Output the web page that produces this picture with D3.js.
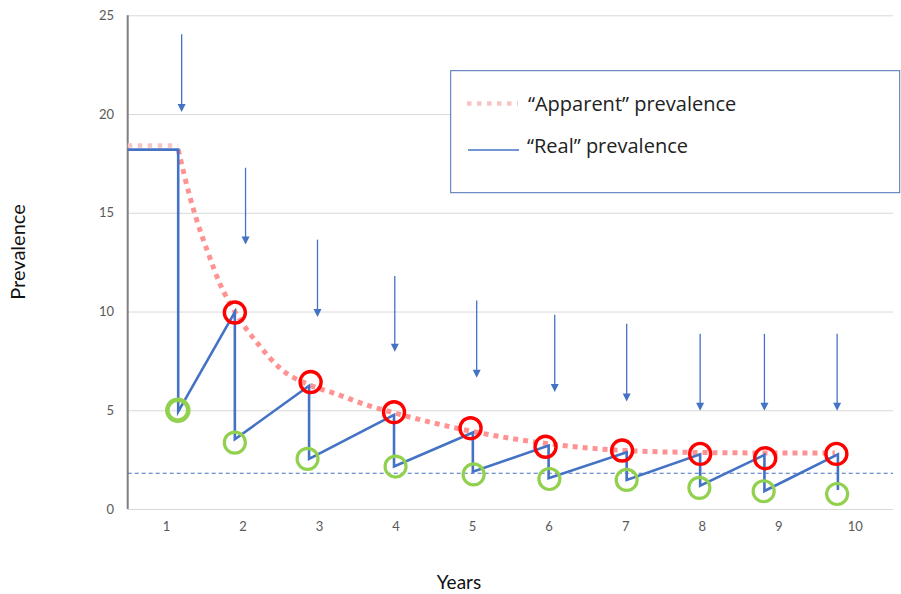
<!DOCTYPE html>
<html>
<head>
<meta charset="utf-8">
<script src="https://cdn.jsdelivr.net/npm/d3@7"></script>
<style>
  html, body { margin: 0; padding: 0; background: #fff; }
  svg { display: block; }
  text { font-family: Lato, "Open Sans", sans-serif; }
</style>
</head>
<body>
<svg id="chart" width="901" height="594"></svg>
<script>
// ---- data ----
const years = [1, 2, 3, 4, 5, 6, 7, 8, 9, 10];
const yTicks = [0, 5, 10, 15, 20, 25];

// "Real" prevalence zig-zag (x in year units, y prevalence)
const realX = [0.5, 1.16, 1.16, 1.90, 1.90, 2.87, 2.87, 3.98, 3.98, 5.01, 5.01, 6.00, 6.00, 7.02, 7.02, 7.98, 7.98, 8.82, 8.82, 9.78, 9.78];
const realY = [18.2, 18.2, 4.93, 9.97, 3.53, 6.24, 2.54, 4.77, 2.15, 3.87, 1.89, 3.21, 1.56, 2.87, 1.47, 2.77, 1.18, 2.74, 0.91, 2.77, 0.96];

// "Apparent" prevalence: initial flat part and decaying curve
const apparentStartX = [0.5, 1.16];
const apparentStartY = [18.41, 18.41];
const apparentX = [1.16, 1.31, 1.40, 1.55, 1.71, 1.90, 2.23, 2.49, 2.87, 3.19, 3.62, 3.98, 5.00, 6.00, 7.00, 8.00, 8.80, 9.74];
const apparentY = [18.2, 15.84, 14.65, 12.97, 11.36, 10.0, 8.23, 7.13, 6.29, 5.87, 5.27, 4.87, 3.93, 3.30, 2.96, 2.86, 2.84, 2.84];

// Red circles (peaks) and green circles (troughs)
const redX = [1.90, 2.89, 3.98, 4.98, 5.96, 6.96, 7.98, 8.83, 9.76];
const redY = [9.95, 6.43, 4.90, 4.09, 3.15, 2.96, 2.79, 2.57, 2.79];
const greenX = [1.155, 1.90, 2.85, 4.00, 5.02, 6.01, 7.02, 7.97, 8.81, 9.77];
const greenY = [5.00, 3.36, 2.54, 2.15, 1.75, 1.52, 1.47, 1.07, 0.90, 0.76];

// Downward arrows
const arrowX = [1.205, 2.04, 2.98, 3.99, 5.06, 6.08, 7.02, 7.98, 8.82, 9.77];
const arrowTop = [24.04, 17.28, 13.64, 11.8, 10.56, 9.84, 9.38, 8.87, 8.87, 8.87];
const arrowTip = [20.1, 13.39, 9.72, 7.96, 6.64, 5.93, 5.44, 4.97, 4.97, 4.97];

// Dashed reference level
const thresholdValue = 1.81;

const legendLabels = ["\u201CApparent\u201D prevalence", "\u201CReal\u201D prevalence"];

// ---- drawing ----
const svg = d3.select("#chart");
const plotLeft = 127.7, plotRight = 893, plotTop = 15.3, plotBottom = 509;

const x = d3.scaleLinear().domain([0.5, 10.5]).range([plotLeft, plotRight]);
const y = d3.scaleLinear().domain([0, 25]).range([plotBottom, plotTop]);

const blue = "#4472C4";

// gridlines
svg.append("g")
  .attr("transform", `translate(${plotLeft},0)`)
  .call(d3.axisLeft(y).tickValues(yTicks).tickSize(-(plotRight - plotLeft)).tickFormat(""))
  .call(g => g.select(".domain").remove())
  .call(g => g.selectAll("line").attr("stroke", "#d9d9d9").attr("stroke-width", 1));

// y tick labels
svg.append("g")
  .attr("transform", `translate(114,0)`)
  .call(d3.axisLeft(y).tickValues(yTicks).tickSize(0).tickPadding(0))
  .call(g => g.select(".domain").remove())
  .call(g => g.selectAll("text").attr("fill", "#595959").style("font-size", "13px").style("font-family", "Lato, 'Open Sans', sans-serif"));

// x tick labels
svg.append("g")
  .attr("transform", `translate(0,${plotBottom + 13})`)
  .call(d3.axisBottom(x).tickValues(years).tickSize(0).tickPadding(0).tickFormat(d3.format("d")))
  .call(g => g.select(".domain").remove())
  .call(g => g.selectAll("text").attr("fill", "#595959").style("font-size", "13px").style("font-family", "Lato, 'Open Sans', sans-serif"));

// y axis line
svg.append("line")
  .attr("x1", plotLeft).attr("x2", plotLeft).attr("y1", y(25)).attr("y2", y(0))
  .attr("stroke", "#7f7f7f").attr("stroke-width", 2);

// dashed threshold
svg.append("line")
  .attr("x1", plotLeft).attr("x2", plotRight)
  .attr("y1", y(thresholdValue)).attr("y2", y(thresholdValue))
  .attr("stroke", blue).attr("stroke-width", 1.1).attr("stroke-dasharray", "4,3");

// arrows
const arrows = svg.append("g");
arrowX.forEach((ax, i) => {
  const px = x(ax), py1 = y(arrowTop[i]), py2 = y(arrowTip[i]);
  arrows.append("line")
    .attr("x1", px).attr("x2", px).attr("y1", py1).attr("y2", py2 - 6)
    .attr("stroke", blue).attr("stroke-width", 1.3);
  arrows.append("path")
    .attr("d", `M${px - 4},${py2 - 8}L${px + 4},${py2 - 8}L${px},${py2}Z`)
    .attr("fill", blue);
});

// apparent prevalence
const lineGen = d3.line().x(d => x(d[0])).y(d => y(d[1]));
svg.append("path")
  .attr("d", lineGen(d3.zip(apparentStartX, apparentStartY)))
  .attr("fill", "none").attr("stroke", "#f7c4c4").attr("stroke-width", 4.5)
  .attr("stroke-dasharray", "4.5,5.5");
svg.append("path")
  .attr("d", d3.line().x(d => x(d[0])).y(d => y(d[1])).curve(d3.curveMonotoneX)(d3.zip(apparentX, apparentY)))
  .attr("fill", "none").attr("stroke", "#ff9393").attr("stroke-width", 5)
  .attr("stroke-dasharray", "5,5");

// real prevalence
svg.append("path")
  .attr("d", lineGen(d3.zip(realX, realY)))
  .attr("fill", "none").attr("stroke", blue).attr("stroke-width", 2.6)
  .attr("stroke-linejoin", "miter");

// circles
svg.append("g").selectAll("circle").data(d3.zip(greenX, greenY)).join("circle")
  .attr("cx", d => x(d[0])).attr("cy", d => y(d[1]))
  .attr("r", 10.5)
  .attr("fill", "none").attr("stroke", "#92d050")
  .attr("stroke-width", (d, i) => i === 0 ? 4.5 : 3.2);
svg.append("g").selectAll("circle").data(d3.zip(redX, redY)).join("circle")
  .attr("cx", d => x(d[0])).attr("cy", d => y(d[1]))
  .attr("r", 10.5)
  .attr("fill", "none").attr("stroke", "#ff0000").attr("stroke-width", 3.4);

// legend
const lg = svg.append("g");
lg.append("rect").attr("x", 450.7).attr("y", 70.7).attr("width", 449).attr("height", 122)
  .attr("fill", "#fff").attr("stroke", "#4a6fb5").attr("stroke-width", 1);
lg.append("line").attr("x1", 467).attr("x2", 518).attr("y1", 103.5).attr("y2", 103.5)
  .attr("stroke", "#f7c4c4").attr("stroke-width", 4.5).attr("stroke-dasharray", "4.5,5.5");
lg.append("line").attr("x1", 468).attr("x2", 519).attr("y1", 150).attr("y2", 150)
  .attr("stroke", blue).attr("stroke-width", 1.5);
lg.append("text").attr("x", 528).attr("y", 110.7).text(legendLabels[0])
  .attr("fill", "#222").style("font-size", "20px").style("font-family", "'Open Sans', sans-serif");
lg.append("text").attr("x", 527).attr("y", 153.3).text(legendLabels[1])
  .attr("fill", "#222").style("font-size", "20px").style("font-family", "'Open Sans', sans-serif");

// axis titles
svg.append("text").attr("transform", "translate(25,252) rotate(-90)")
  .attr("text-anchor", "middle").attr("fill", "#111").style("font-size", "20px").text("Prevalence");
svg.append("text").attr("x", 459).attr("y", 589)
  .attr("text-anchor", "middle").attr("fill", "#111").style("font-size", "19px").text("Years");
</script>
</body>
</html>
